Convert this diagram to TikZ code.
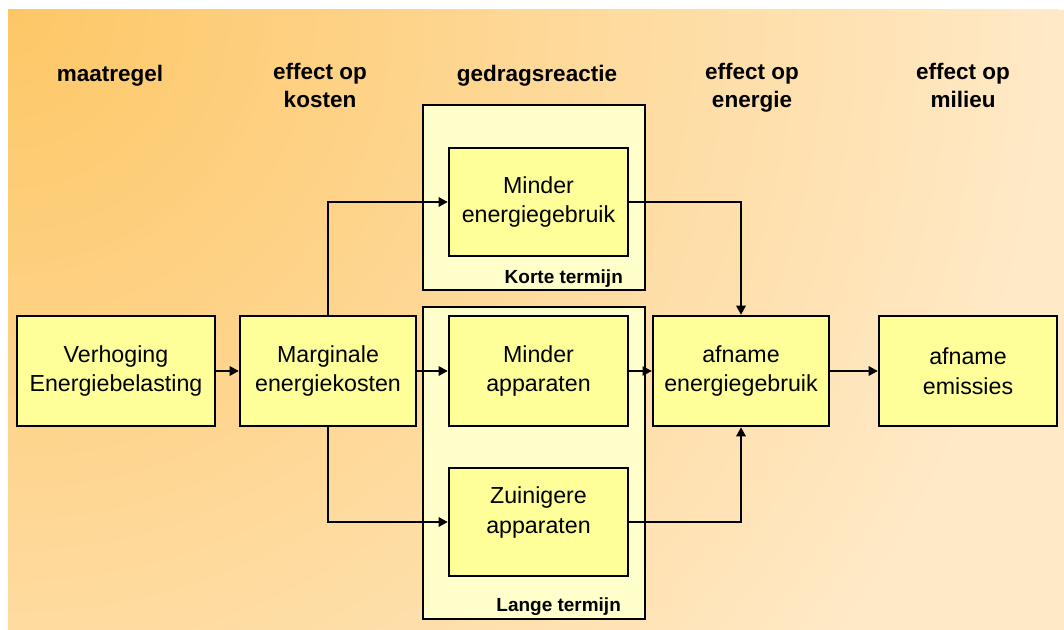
\documentclass[tikz,border=0pt]{standalone}
\usepackage{fontspec}
\setmainfont{Liberation Sans}
\usetikzlibrary{positioning,arrows.meta}

\definecolor{bgorange}{RGB}{253,199,102}
\definecolor{bgcream}{RGB}{255,233,199}
\definecolor{boxyellow}{RGB}{255,255,153}
\definecolor{termcream}{RGB}{255,255,204}

\tikzset{
	blok/.style={draw, line width=1.6pt, fill=boxyellow, align=center, inner sep=0pt,
		font=\fontsize{16.5}{21}\selectfont},
	termijn/.style={draw, line width=1.6pt, fill=termcream, inner sep=0pt},
	kop/.style={font=\bfseries\fontsize{16}{19.5}\selectfont, align=center, anchor=north, inner sep=0pt},
	termtekst/.style={font=\bfseries\fontsize{13.5}{16}\selectfont, anchor=base east, inner sep=0pt},
	pijl/.style={line width=2pt, -{Triangle[length=6.5pt,width=6.5pt]}},
}

\begin{document}
\begin{tikzpicture}[x=0.025cm, y=0.025cm]
			%%%%% START %%%%%
			\useasboundingbox (0,0) rectangle (1064,-630);
			
			\begin{scope}
				\clip (8,-10) rectangle (1064,-630);
				\fill[bgcream] (8,-10) rectangle (1064,-630);
				\shade[inner color=bgorange, outer color=bgcream] (8,-10) circle (1050);
			\end{scope}
			
			\node[kop] (kmaatregel) at (110,-65) {maatregel};
			\node[kop] (kkosten) at (320,-63) {effect op\\kosten};
			\node[kop] (kgedrag) at (537,-65) {gedragsreactie};
			\node[kop] (kenergie) at (752,-63) {effect op\\energie};
			\node[kop] (kmilieu) at (963,-63) {effect op\\milieu};
			
			\node[termijn, minimum width=5.55cm, minimum height=4.625cm] (korte) at (534,-197.5) {};
			\node[termijn, minimum width=5.55cm, minimum height=7.8cm] (lange) at (534,-463) {};
			\node[termtekst] (kortetekst) at ([shift={(-23,8)}]korte.south east) {Korte termijn};
			\node[termtekst] (langetekst) at ([shift={(-25,8.5)}]lange.south east) {Lange termijn};
			
			\node[blok, minimum width=4.95cm, minimum height=2.75cm] (verhoging) at (116,-371) {Verhoging\\Energiebelasting};
			\node[blok, minimum width=4.4cm, minimum height=2.75cm] (marginaal) at (328,-371) {Marginale\\energiekosten};
			
			\node[blok, minimum width=4.475cm, minimum height=2.7cm] (minderenergie) at (538.5,-202) {Minder\\energiegebruik};
			\node[blok, minimum width=4.475cm, minimum height=2.75cm] (minderapparaten) at (538.5,-371) {Minder\\apparaten};
			\node[blok, minimum width=4.475cm, minimum height=2.7cm, text depth=17pt] (zuiniger) at (538.5,-522) {Zuinigere\\apparaten};
			
			\node[blok, minimum width=4.4cm, minimum height=2.75cm] (afnameenergie) at (741,-371) {afname\\energiegebruik};
			\node[blok, minimum width=4.45cm, minimum height=2.75cm] (afnameemissie) at (968,-371) {afname\\emissies};
			
			\draw[pijl] (verhoging) -- (marginaal);
			\draw[pijl] (marginaal) -- (minderapparaten);
			\draw[pijl] (marginaal.north) |- (minderenergie);
			\draw[pijl] (marginaal.south) |- (zuiniger);
			
			\draw[pijl] (minderenergie) -| (afnameenergie);
			\draw[pijl, line width=1pt] (minderapparaten) -- (afnameenergie);
			\draw[pijl] (zuiniger) -| (afnameenergie);
			\draw[pijl] (afnameenergie) -- (afnameemissie);
			
			%%%%% END %%%%%
\end{tikzpicture}
\end{document}
